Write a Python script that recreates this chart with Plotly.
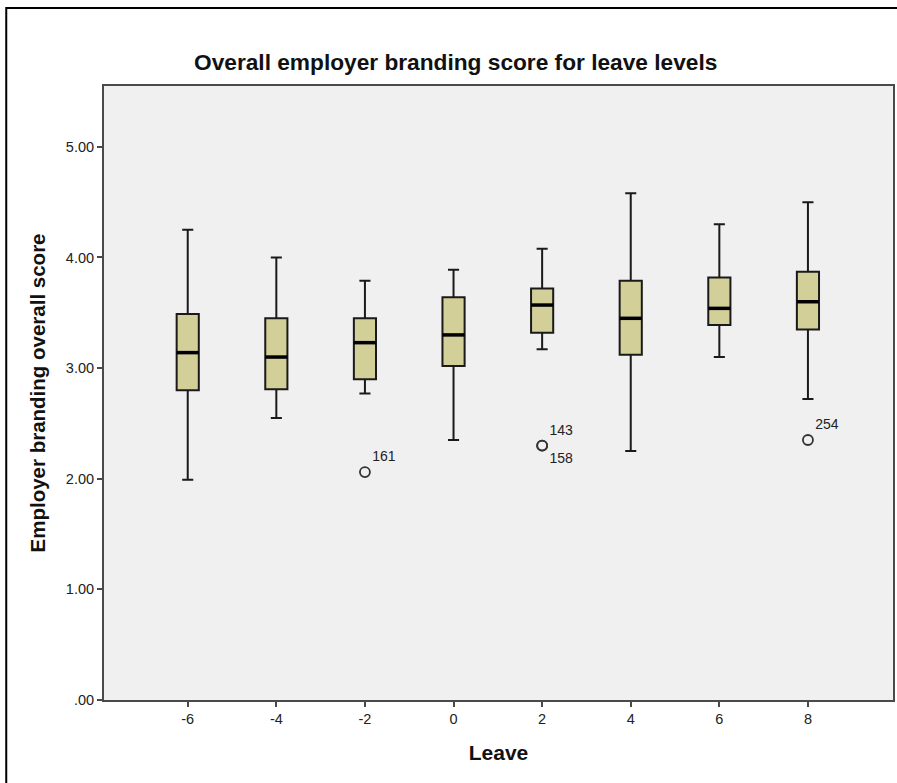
import plotly.graph_objects as go

# Leave levels and five-number summaries of the overall score
leave = [-6, -4, -2, 0, 2, 4, 6, 8]
lower_whisker = [1.99, 2.55, 2.77, 2.35, 3.17, 2.25, 3.10, 2.72]
q1 = [2.80, 2.81, 2.90, 3.02, 3.32, 3.12, 3.39, 3.35]
median = [3.14, 3.10, 3.23, 3.30, 3.57, 3.45, 3.54, 3.60]
q3 = [3.49, 3.45, 3.45, 3.64, 3.72, 3.79, 3.82, 3.87]
upper_whisker = [4.25, 4.00, 3.79, 3.89, 4.08, 4.58, 4.30, 4.50]

# Outlying cases with their case numbers
outlier_leave = [-2, 2, 2, 8]
outlier_score = [2.06, 2.30, 2.30, 2.35]
outlier_case = ["161", "143", "158", "254"]
outlier_label_pos = ["top right", "top right", "bottom right", "top right"]

y_ticks = [0, 1, 2, 3, 4, 5]
y_tick_text = [".00", "1.00", "2.00", "3.00", "4.00", "5.00"]

BOX_W = 0.5
W, H = 897, 783
L, R, T, B = 104, 2, 86, 83
PW, PH = W - L - R, H - T - B
FONT = "Liberation Sans, Arial"

fig = go.Figure()

fig.add_trace(go.Box(
    x=leave,
    q1=q1, median=median, q3=q3,
    lowerfence=lower_whisker, upperfence=upper_whisker,
    width=BOX_W,
    whiskerwidth=0.5,
    fillcolor="#d3cf99",
    line=dict(color="#1a1a1a", width=2),
    boxpoints=False,
    hoverinfo="skip",
))

# Heavier median bars
mx, my = [], []
for x, m in zip(leave, median):
    mx += [x - BOX_W / 2, x + BOX_W / 2, None]
    my += [m, m, None]
fig.add_trace(go.Scatter(
    x=mx, y=my, mode="lines",
    line=dict(color="black", width=3.5),
    hoverinfo="skip",
))

fig.add_trace(go.Scatter(
    x=outlier_leave, y=outlier_score,
    mode="markers+text",
    marker=dict(symbol="circle-open", size=10, color="#333333", line=dict(width=1.8)),
    text=outlier_case,
    textposition=outlier_label_pos,
    textfont=dict(family=FONT, size=14, color="#222222"),
    hoverinfo="skip",
))

axis_common = dict(
    showgrid=False, zeroline=False,
    showline=True, linecolor="#4a4a4a", linewidth=2, mirror=True,
    ticks="outside", ticklen=5, tickwidth=2, tickcolor="#4a4a4a",
    tickfont=dict(family=FONT, size=14.5, color="#222222"),
)

fig.update_layout(
    width=W, height=H,
    margin=dict(l=L, r=R, t=T, b=B),
    paper_bgcolor="white",
    plot_bgcolor="#f0f0f0",
    showlegend=False,
    xaxis=dict(
        range=[-7.89, 9.92],
        tickvals=leave,
        ticktext=[str(v) for v in leave],
        title=dict(text="<b>Leave</b>", standoff=19,
                   font=dict(family=FONT, size=21, color="#111111")),
        **axis_common,
    ),
    yaxis=dict(
        range=[0, 5.55],
        tickvals=y_ticks,
        ticktext=y_tick_text,
        title=dict(text="<b>Employer branding overall score</b>", standoff=15,
                   font=dict(family=FONT, size=20.5, color="#111111")),
        **axis_common,
    ),
    annotations=[dict(
        text="<b>Overall employer branding score for leave levels</b>",
        xref="paper", yref="paper",
        x=(456 - L) / PW, y=(H - B - 62) / PH,
        xanchor="center", yanchor="middle",
        showarrow=False,
        font=dict(family=FONT, size=22.7, color="#111111"),
    )],
    shapes=[dict(
        type="rect", xref="paper", yref="paper",
        x0=(6 - L) / PW, x1=(W + 20 - L) / PW,
        y0=-(B + 20) / PH, y1=(H - B - 8) / PH,
        line=dict(color="black", width=2),
        fillcolor="rgba(0,0,0,0)",
        layer="below",
    )],
)

fig.write_html("out.html")
